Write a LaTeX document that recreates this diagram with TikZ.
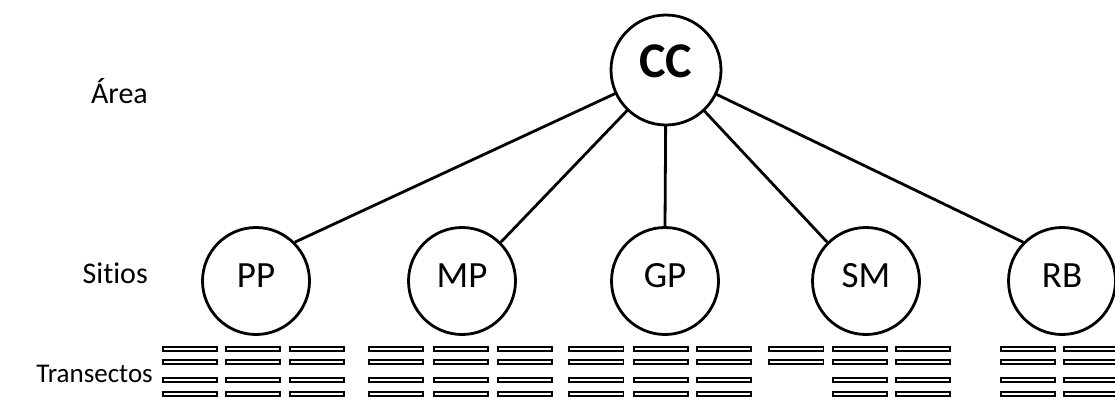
\documentclass[tikz,border=0pt]{standalone}
\usepackage{fontspec}
\setmainfont{Carlito}[Ligatures=NoCommon]
\begin{document}
\begin{tikzpicture}[x=1pt,y=-1pt,
  site/.style={circle,draw,line width=2.8pt,minimum size=107pt,inner sep=0pt,fill=white,
    text height=24pt,text depth=12pt,font=\fontsize{37}{37}\selectfont},
  area/.style={site,minimum size=110pt,text height=31pt,text depth=16pt,
    font=\fontsize{50}{50}\selectfont\bfseries},
  level/.style={anchor=base east,inner sep=0pt,font=\fontsize{30}{30}\selectfont},
  link/.style={line width=2.8pt},
  transect/.style={draw,line width=1.8pt}]
\useasboundingbox (0,0) rectangle (1115,400);
\clip (0,0) rectangle (1115,400);

% level labels
\node[level] (lArea)   at (148,103) {Área};
\node[level] (lSitios) at (148,283) {Sitios};
\node[level,font=\fontsize{27}{27}\selectfont] (lTrans) at (153,382) {Transectos};

% links from the sites up to the area
\coordinate (ccc) at (666,70);
\node[site] (PP) at (256,281) {PP};
\node[site] (MP) at (462,281) {MP};
\node[site] (GP) at (665,281) {GP};
\node[site] (SM) at (866,281) {SM};
\node[site] (RB) at (1062,281) {RB};
\draw[link] (PP.45)  -- (ccc);
\draw[link] (MP.45)  -- (ccc);
\draw[link] (GP.north) -- (ccc);
\draw[link] (SM.135) -- (ccc);
\draw[link] (RB.135) -- (ccc);
\node[area] (CC) at (ccc) {CC};

% transects under each site
\foreach \x in {161.7,225,289,368,432.7,496.7,568.3,632.7,696,831.7,895,1000,1063}
  \foreach \y in {349,362,380,394}
    \draw[transect] (\x+0.9,\y-2.2) rectangle ++(54.2,4.4);
\foreach \y in {349,362}
  \draw[transect] (768.3+0.9,\y-2.2) rectangle ++(54.2,4.4);
\end{tikzpicture}
\end{document}
